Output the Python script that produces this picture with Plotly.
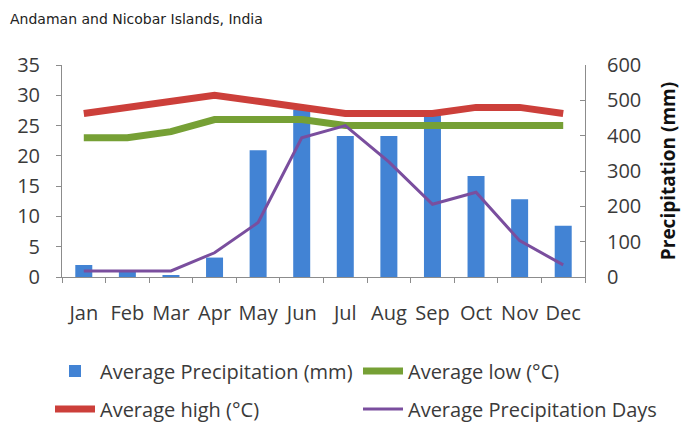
import plotly.graph_objects as go

months = ["Jan", "Feb", "Mar", "Apr", "May", "Jun",
          "Jul", "Aug", "Sep", "Oct", "Nov", "Dec"]
precip_mm = [34, 15, 5, 55, 359, 473, 399, 399, 458, 286, 220, 145]
avg_low = [23, 23, 24, 26, 26, 26, 25, 25, 25, 25, 25, 25]
avg_high = [27, 28, 29, 30, 29, 28, 27, 27, 27, 28, 28, 27]
precip_days = [1, 1, 1, 4, 9, 23, 25, 19, 12, 14, 6, 2]

FONT = "'Open Sans', Lato, sans-serif"
TXT = "#3a3a3a"

fig = go.Figure()

# precipitation bars on the right-hand axis (drawn underneath)
fig.add_trace(go.Bar(
    x=months, y=precip_mm, name="Average Precipitation (mm)",
    marker=dict(color="#4283d4", line=dict(width=0)),
    yaxis="y", legend="legend",
))
# temperature and rain-day lines on the left-hand axis (drawn on top)
fig.add_trace(go.Scatter(
    x=months, y=avg_low, name="Average low (°C)", mode="lines",
    line=dict(color="#76a035", width=7), yaxis="y2", legend="legend2",
))
fig.add_trace(go.Scatter(
    x=months, y=avg_high, name="Average high (°C)", mode="lines",
    line=dict(color="#cc3f3a", width=7), yaxis="y2", legend="legend3",
))
fig.add_trace(go.Scatter(
    x=months, y=precip_days, name="Average Precipitation Days", mode="lines",
    line=dict(color="#7a4e9e", width=3), yaxis="y2", legend="legend4",
))

axis_line = "#8c8c8c"
tick_font = dict(family=FONT, size=20, color=TXT)
leg_font = dict(family=FONT, size=20, color=TXT)


def legend_at(x, y):
    return dict(
        x=x, y=y, xref="container", yref="container",
        xanchor="left", yanchor="middle", orientation="h",
        bgcolor="rgba(0,0,0,0)", font=leg_font, itemwidth=40,
    )


fig.update_layout(
    width=681, height=423,
    margin=dict(l=62, r=96, t=65, b=146, autoexpand=False),
    paper_bgcolor="white", plot_bgcolor="white",
    bargap=0.61,
    showlegend=True,
    title=dict(
        text="Andaman and Nicobar Islands, India",
        x=10 / 681, xanchor="left", xref="container",
        y=1 - 19 / 423, yanchor="middle", yref="container",
        font=dict(family="DejaVu Sans", size=14, color="#222"),
    ),
    xaxis=dict(
        type="category", showline=True, linecolor=axis_line, linewidth=1,
        ticks="outside", ticklen=5, tickcolor=axis_line, tickson="boundaries",
        tickfont=tick_font, ticklabelstandoff=18, tickangle=0,
        automargin=False, showgrid=False, zeroline=False,
    ),
    yaxis=dict(
        side="right", range=[0, 600], dtick=100,
        showline=True, linecolor=axis_line, linewidth=1,
        ticks="inside", ticklen=5, tickcolor=axis_line,
        tickfont=tick_font, ticklabelstandoff=17, automargin=False,
        showgrid=False, zeroline=False,
        title=dict(text="<b>Precipitation (mm)</b>", standoff=21,
                   font=dict(family=FONT, size=19, color="#111")),
    ),
    yaxis2=dict(
        side="left", overlaying="y", range=[0, 35], dtick=5,
        showline=True, linecolor=axis_line, linewidth=1,
        ticks="outside", ticklen=5, tickcolor=axis_line,
        tickfont=tick_font, ticklabelstandoff=12, automargin=False,
        showgrid=False, zeroline=False,
    ),
    legend=legend_at(50 / 681, 1 - 371 / 423),
    legend2=legend_at(358 / 681, 1 - 371 / 423),
    legend3=legend_at(50 / 681, 1 - 409 / 423),
    legend4=legend_at(358 / 681, 1 - 409 / 423),
)

fig.write_html("out.html")
